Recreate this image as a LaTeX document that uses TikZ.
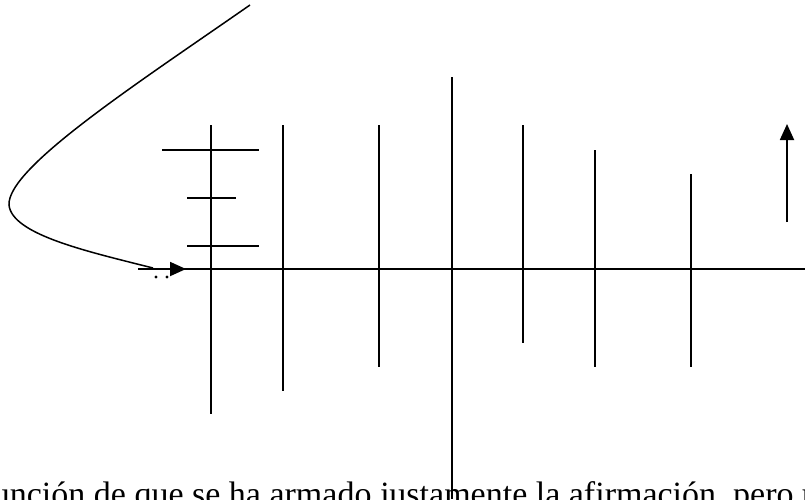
\documentclass[tikz,border=0pt]{standalone}
\usepackage{fontspec}
\setmainfont{Liberation Serif}
\usetikzlibrary{arrows.meta}

\begin{document}
\begin{tikzpicture}[x=1pt,y=-1pt,line width=1.8pt,
    bar/.style={line width=1.9pt},
    tip/.style={-{Triangle[length=16pt,width=14pt]}}]
  \useasboundingbox (0,0) rectangle (805,499);
  \clip (0,0) rectangle (805,499);
  % main axis
  \coordinate (axisL) at (138,269);
  \coordinate (axisR) at (805,269);
  \draw (axisL) -- (axisR);
  \coordinate (headA) at (168,269);
  \coordinate (headB) at (186,269);
  \draw[tip] (headA) -- (headB);
  \fill (156,277) circle (1.6) (167,277) circle (1.6);
  % loop coming back into the axis
  \coordinate (loopTop) at (250,5);
  \coordinate (loopEnd) at (153,268);
  \draw[line width=1.5pt] (loopTop) .. controls (135,85) and (7,168) .. (9,205)
        .. controls (12,235) and (90,252) .. (loopEnd);
  % vertical bars: x / top / bottom
  \foreach \x/\t/\b in {211/125/414, 283/125/391, 379/125/367, 452/77/499,
                        523/125/343, 595/150/367, 691/174/367}
      \draw[bar] (\x,\t) -- (\x,\b);
  % short cross lines on the first bar
  \draw (162,150) -- (259,150);
  \draw (187,198) -- (236,198);
  \draw (187,246) -- (259,246);
  % upward arrow on the right
  \coordinate (upFoot) at (787,222);
  \coordinate (upTip) at (787,124);
  \draw[tip] (upFoot) -- (upTip);
  % running text, cut by the lower border
  \node[anchor=base west,inner sep=0pt,font=\fontsize{34}{40}\selectfont] (txt) at (-8,505)
      {unción de que se ha armado justamente la afirmación, pero u};
\end{tikzpicture}
\end{document}
